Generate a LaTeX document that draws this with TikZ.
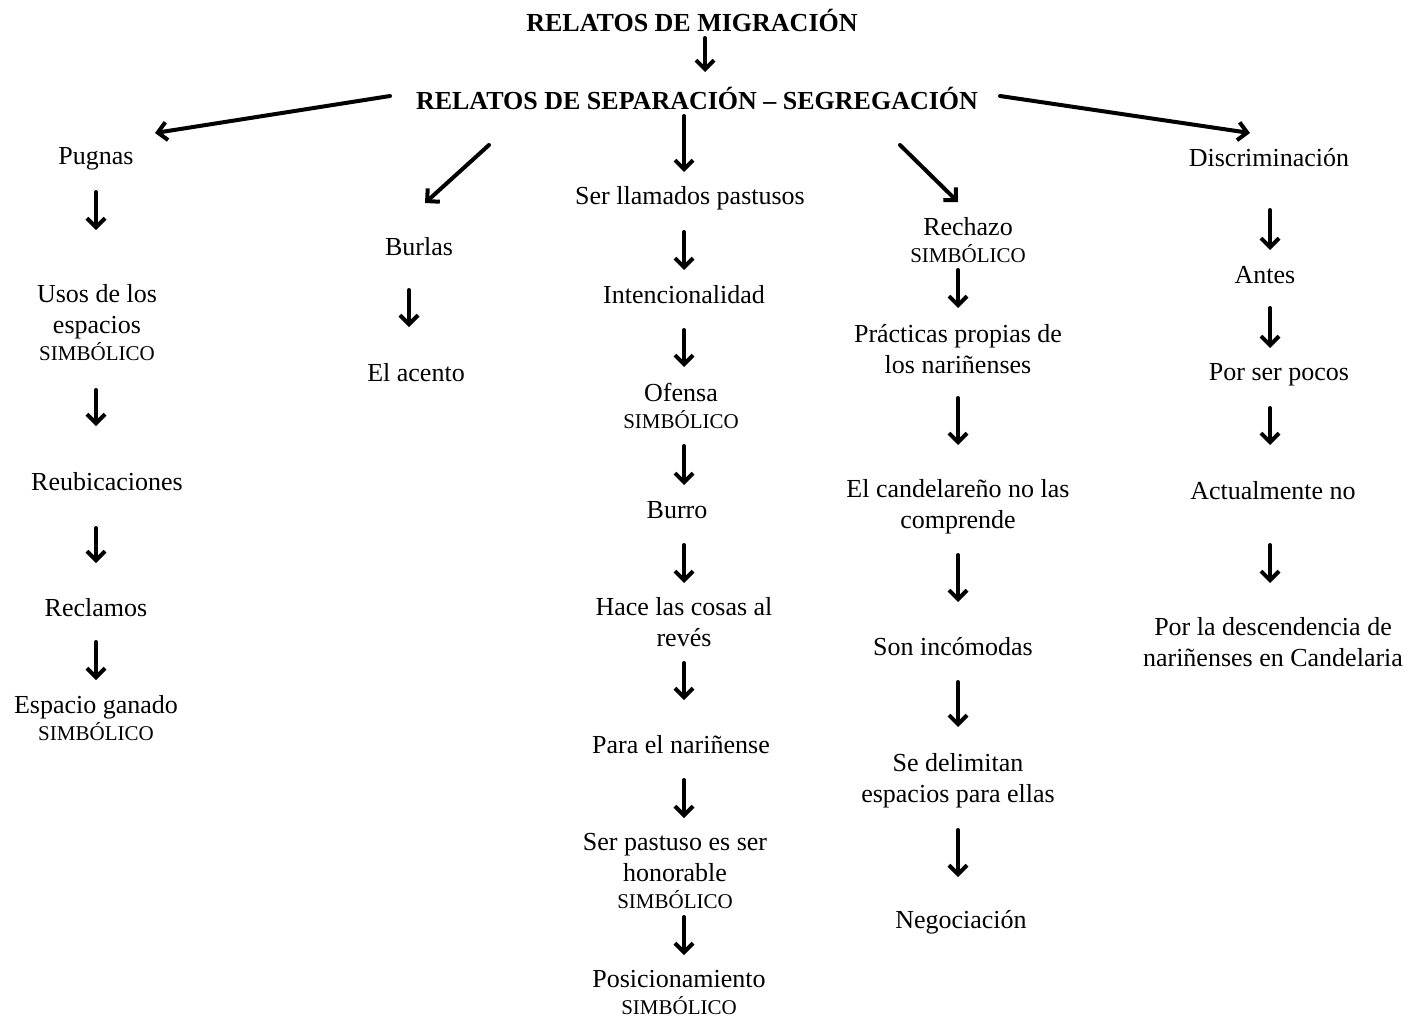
\documentclass[tikz,border=0pt]{standalone}
\usepackage{fontspec}
\setmainfont{Liberation Serif}
\usetikzlibrary{arrows.meta,calc}
% small-caps-sized tag line placed under a label
\newcommand\simb{\\[-4pt]{\fontsize{21}{25}\selectfont SIMBÓLICO}}
% vertical arrow between two labels along a column line
\newcommand\dn[5]{\draw[arr, shorten <=#4pt, shorten >=#5pt] (#1.center -| #3) -- (#2.center -| #3);}
\begin{document}
\begin{tikzpicture}[x=1pt,y=-1pt,
  txt/.style={font=\fontsize{26}{31}\selectfont, align=center, inner sep=0pt},
  ttl/.style={txt, font=\fontsize{26}{31}\selectfont\bfseries},
  arr/.style={line width=4pt, -{Straight Barb[length=9pt,width=18pt]}, line cap=round, line join=round}]
\useasboundingbox (0,0) rectangle (1409,1020);

% column lines
\coordinate (c0) at (705,0);
\coordinate (c1) at (96,0);
\coordinate (c2) at (409,0);
\coordinate (c3) at (684,0);
\coordinate (c4) at (958,0);
\coordinate (c5) at (1270,0);

% headings
\node[ttl] (mig) at (692,20) {RELATOS DE MIGRACIÓN};
\node[ttl] (sep) at (697,98) {RELATOS DE SEPARACIÓN – SEGREGACIÓN};

% first column
\node[txt] (pug)  at (96,159)   {Pugnas};
\node[txt] (usos) at (97,322.5) {Usos de los\\espacios\simb};
\node[txt] (reub) at (107,482)  {Reubicaciones};
\node[txt] (recl) at (96,608)   {Reclamos};
\node[txt] (esp)  at (96,718.5) {Espacio ganado\simb};

% second column
\node[txt] (bur)  at (419,247) {Burlas};
\node[txt] (acen) at (416,373) {El acento};

% third column
\node[txt] (ser)   at (690,198)   {Ser llamados pastusos};
\node[txt] (int)   at (684,295)   {Intencionalidad};
\node[txt] (ofe)   at (681,405.5) {Ofensa\simb};
\node[txt] (burro) at (677,510)   {Burro};
\node[txt] (hace)  at (684,622.5) {Hace las cosas al\\revés};
\node[txt] (para)  at (681,745)   {Para el nariñense};
\node[txt] (hon)   at (675,870.5) {Ser pastuso es ser\\honorable\simb};
\node[txt] (pos)   at (679,992.5) {Posicionamiento\simb};

% fourth column
\node[txt] (rech) at (968,240.5) {Rechazo\simb};
\node[txt] (prac) at (958,349.5) {Prácticas propias de\\los nariñenses};
\node[txt] (cand) at (958,506.5) {El candelareño no las\\comprende};
\node[txt] (son)  at (953,647)   {Son incómodas};
\node[txt] (deli) at (958,780.5) {Se delimitan\\espacios para ellas};
\node[txt] (neg)  at (961,922)   {Negociación};

% fifth column
\node[txt] (disc)  at (1269,158)   {Discriminación};
\node[txt] (antes) at (1265,275)   {Antes};
\node[txt] (pocos) at (1279,375)   {Por ser pocos};
\node[txt] (act)   at (1273,491)   {Actualmente no};
\node[txt] (desc)  at (1273,642.5) {Por la descendencia de\\nariñenses en Candelaria};

% heading links
\dn{mig}{sep}{c0}{18}{26}
\draw[arr] ($(sep)+(-307,-2)$) -- ($(pug)+(59,-26)$);
\draw[arr] ($(sep)+(-208,47)$) -- ($(bur)+(6,-44)$);
\dn{sep}{ser}{c3}{18}{26}
\draw[arr] ($(sep)+(203,47)$) -- ($(rech)+(-10,-38.5)$);
\draw[arr] ($(sep)+(303,-2)$) -- ($(disc)+(-19,-25)$);

% first column links
\dn{pug}{usos}{c1}{33}{92.5}
\dn{usos}{reub}{c1}{67.5}{56}
\dn{reub}{recl}{c1}{46}{45}
\dn{recl}{esp}{c1}{34}{38.5}

% second column link
\dn{bur}{acen}{c2}{43}{46}

% third column links
\dn{ser}{int}{c3}{34}{25}
\dn{int}{ofe}{c3}{35}{38.5}
\dn{ofe}{burro}{c3}{40.5}{25}
\dn{burro}{hace}{c3}{35}{39.5}
\dn{hace}{para}{c3}{40.5}{45}
\dn{para}{hon}{c3}{35}{52.5}
\dn{hon}{pos}{c3}{46.5}{37.5}

% fourth column links
\dn{rech}{prac}{c4}{29.5}{41.5}
\dn{prac}{cand}{c4}{48.5}{61.5}
\dn{cand}{son}{c4}{48.5}{45}
\dn{son}{deli}{c4}{35}{53.5}
\dn{deli}{neg}{c4}{49.5}{45}

% fifth column links
\dn{disc}{antes}{c5}{52}{25}
\dn{antes}{pocos}{c5}{33}{27}
\dn{pocos}{act}{c5}{33}{46}
\dn{act}{desc}{c5}{54}{59.5}
\end{tikzpicture}
\end{document}
